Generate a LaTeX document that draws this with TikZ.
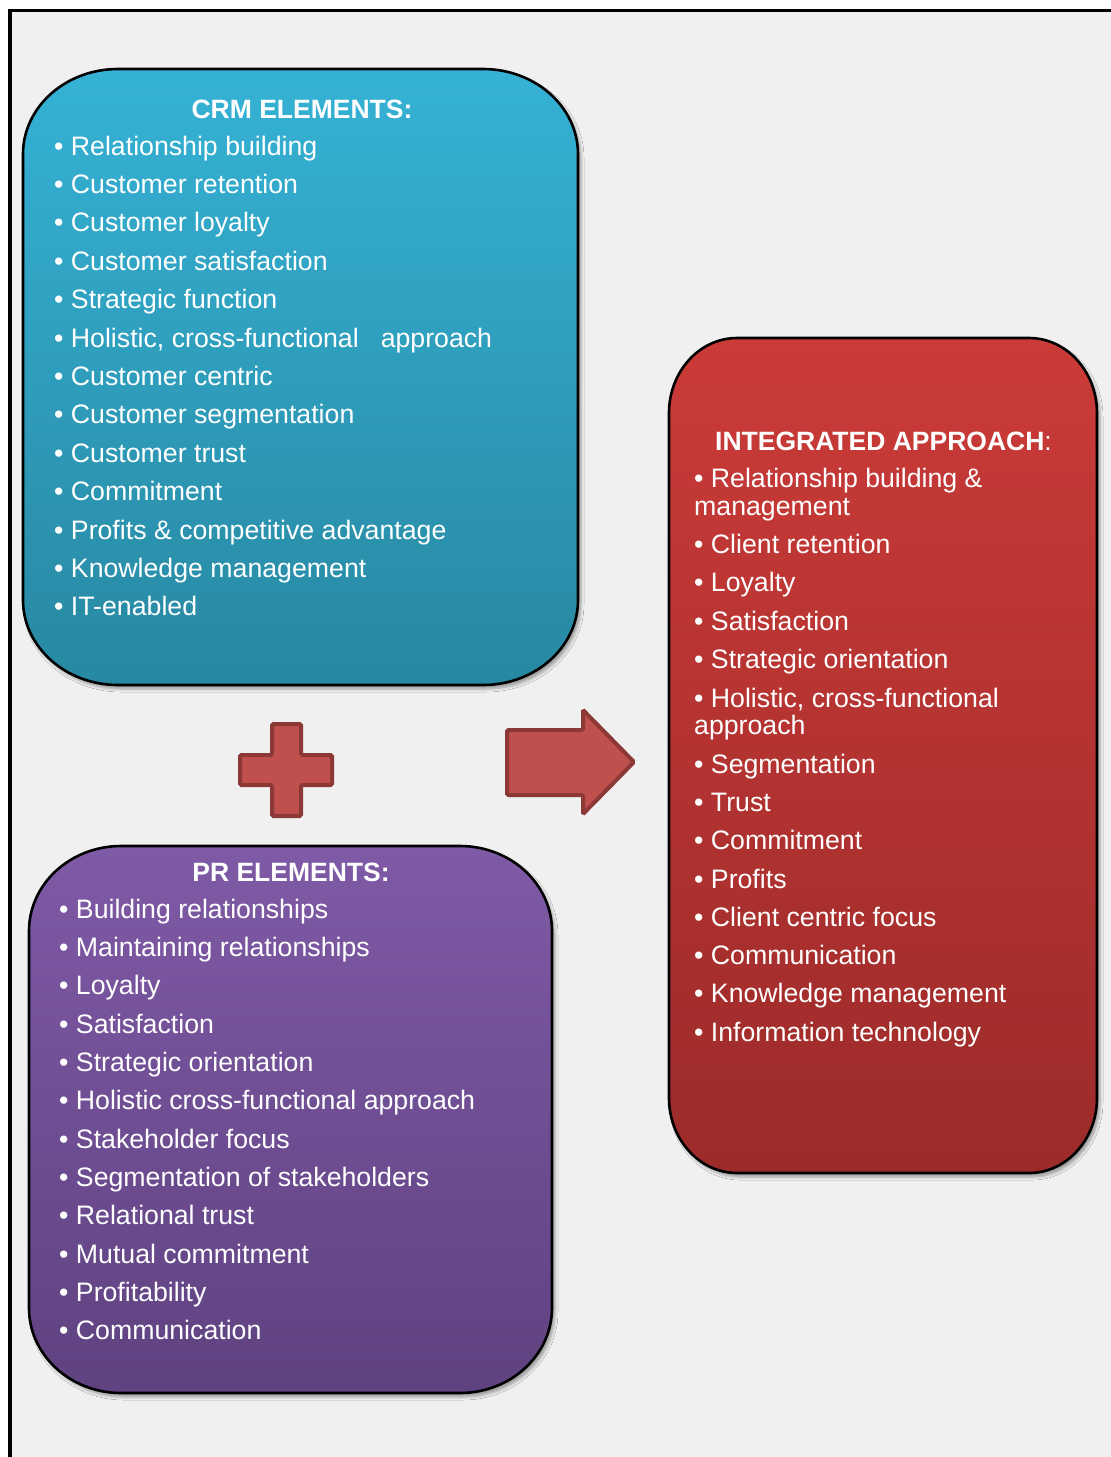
\documentclass[tikz,border=0pt]{standalone}
\usepackage{fontspec}
\setmainfont{Liberation Sans}
\usetikzlibrary{shadows.blur}
\definecolor{bg}{HTML}{F0F0F0}
\definecolor{crmtop}{HTML}{35B2D5}
\definecolor{crmbot}{HTML}{2888A2}
\definecolor{prtop}{HTML}{7F5AA6}
\definecolor{prbot}{HTML}{5F4280}
\definecolor{intop}{HTML}{CB3B38}
\definecolor{inbot}{HTML}{9B2B2A}
\definecolor{shapefill}{HTML}{C0504D}
\definecolor{shapeline}{HTML}{8C3836}
% #1 options, #2 x1, #3 y1, #4 x2, #5 y2, #6 rx, #7 ry
\newcommand\roundbox[7]{%
  \draw[#1] (#2+#6,#3) -- (#4-#6,#3)
    .. controls (#4-0.448*#6,#3) and (#4,#3+0.448*#7) .. (#4,#3+#7)
    -- (#4,#5-#7)
    .. controls (#4,#5-0.448*#7) and (#4-0.448*#6,#5) .. (#4-#6,#5)
    -- (#2+#6,#5)
    .. controls (#2+0.448*#6,#5) and (#2,#5-0.448*#7) .. (#2,#5-#7)
    -- (#2,#3+#7)
    .. controls (#2,#3+0.448*#7) and (#2+0.448*#6,#3) .. (#2+#6,#3)
    -- cycle;}
\begin{document}
\begin{tikzpicture}[x=1pt,y=-1pt,
  box/.style={draw=black, line width=2.6pt,
    blur shadow={shadow xshift=3pt, shadow yshift=-4pt, shadow blur radius=3pt, shadow opacity=35}},
  item/.style={anchor=base west, inner sep=0pt, text=white,
    font=\fontsize{26.7}{30}\selectfont},
  head/.style={anchor=base, inner sep=0pt, text=white,
    font=\fontsize{26.5}{30}\selectfont\bfseries},
  symbol/.style={fill=shapefill, draw=shapeline, line width=4pt, rounded corners=1.5pt}]
\useasboundingbox (0,0) rectangle (1111,1457);
\fill[white] (0,0) rectangle (1111,1457);
\fill[bg] (10,10.7) rectangle (1111,1457);
\draw[line width=3pt] (8.5,10.7) -- (1111,10.7);
\draw[line width=3.2pt] (10,9.2) -- (10,1457);

% boxes
\roundbox{box, top color=crmtop, bottom color=crmbot}{23}{69}{578}{685}{95}{85}
\roundbox{box, top color=prtop, bottom color=prbot}{29}{846}{552}{1393}{92}{85}
\roundbox{box, top color=intop, bottom color=inbot}{669}{338}{1097}{1173}{68}{75}

% plus sign
\draw[symbol] (272,724) -- (301,724) -- (301,755) -- (332,755) -- (332,785)
  -- (301,785) -- (301,816) -- (272,816) -- (272,785) -- (240,785)
  -- (240,755) -- (272,755) -- cycle;
% arrow
\draw[symbol] (507,730) -- (583,730) -- (583,710) -- (634,762) -- (583,814)
  -- (583,795) -- (507,795) -- cycle;

% CRM
\node[head] (crmhead) at (302,118) {CRM ELEMENTS:};
\foreach \t [count=\i from 0] in {Relationship building, Customer retention,
  Customer loyalty, Customer satisfaction, Strategic function,
  {Holistic, cross-functional\hspace*{22pt}approach}, Customer centric,
  Customer segmentation, Customer trust, Commitment,
  Profits \& competitive advantage, Knowledge management, IT-enabled}
  \node[item] (crm\i) at (54,155+38.4*\i) {• \t};

% PR
\node[head] (prhead) at (291,881) {PR ELEMENTS:};
\foreach \t [count=\i from 0] in {Building relationships, Maintaining relationships,
  Loyalty, Satisfaction, Strategic orientation, Holistic cross-functional approach,
  Stakeholder focus, Segmentation of stakeholders, Relational trust,
  Mutual commitment, Profitability, Communication}
  \node[item] (pr\i) at (59,918+38.36*\i) {• \t};

% Integrated
\node[head] (inhead) at (883.5,450) {INTEGRATED APPROACH\textmd{:}};
\foreach \y/\t [count=\i] in {487/{• Relationship building \&}, 515/{management},
  553/{• Client retention}, 591/{• Loyalty}, 630/{• Satisfaction},
  668/{• Strategic orientation}, 707/{• Holistic, cross-functional}, 734/{approach},
  773/{• Segmentation}, 811/{• Trust}, 849/{• Commitment}, 888/{• Profits},
  926/{• Client centric focus}, 964/{• Communication},
  1002/{• Knowledge management}, 1041/{• Information technology}}
  \node[item] (in\i) at (694,\y) {\t};
\end{tikzpicture}
\end{document}
